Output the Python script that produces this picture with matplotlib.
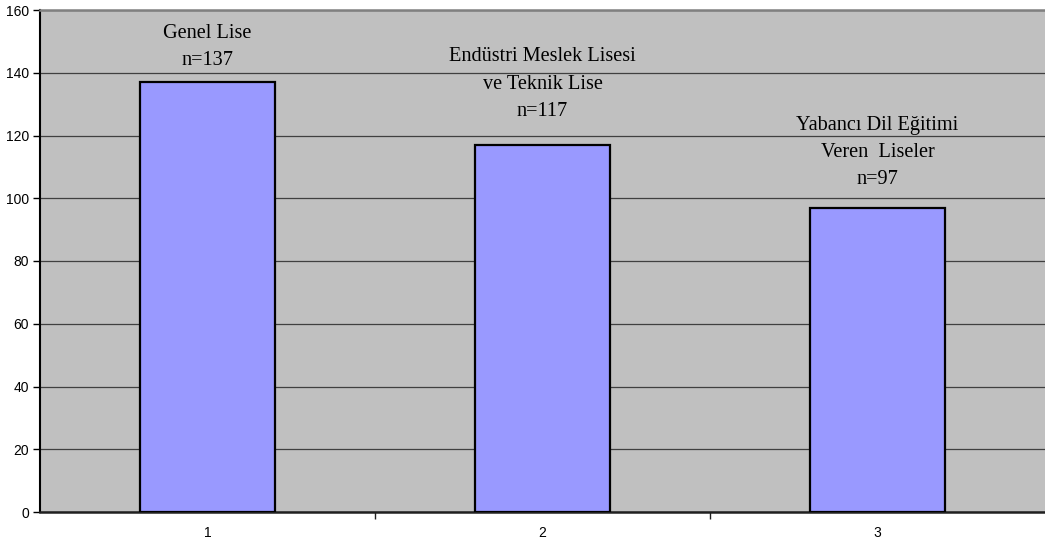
import numpy as np
import matplotlib
matplotlib.use("Agg")
import matplotlib.pyplot as plt

# Okul türlerine göre öğrenci sayıları
categories = ["1", "2", "3"]
counts = [137, 117, 97]
group_names = [
    "Genel Lise",
    "Endüstri Meslek Lisesi\nve Teknik Lise",
    "Yabancı Dil Eğitimi\nVeren  Liseler",
]

# label anchor heights (data units) above each bar
label_y = [140.9, 124.6, 102.8]

BAR_COLOR = "#9999FF"
BG_COLOR = "#C0C0C0"

fig = plt.figure(figsize=(10.45, 5.42), dpi=100)
ax = fig.add_axes([40 / 1045, 30 / 542, 1005 / 1045, 502 / 542])
ax.set_facecolor(BG_COLOR)

x = np.arange(1, len(counts) + 1)
ax.bar(x, counts, width=0.405, color=BAR_COLOR, edgecolor="black",
       linewidth=1.6, zorder=3)

for xi, name, n, ly in zip(x, group_names, counts, label_y):
    ax.text(xi, ly, f"{name}\nn={n}", ha="center", va="bottom",
            multialignment="center", linespacing=1.6,
            fontfamily="Liberation Serif", fontsize=14.6, color="black",
            zorder=4)

ax.set_xlim(0.5, 3.5)
ax.set_ylim(0, 160)
ax.set_yticks(np.arange(0, 161, 20))
ax.yaxis.grid(True, color="#404040", linewidth=0.9, zorder=1)
ax.set_axisbelow(True)

# category labels at centers, tick marks on the boundaries
ax.set_xticks(x)
ax.set_xticklabels(categories)
ax.tick_params(axis="x", which="major", length=0, pad=10)
ax.set_xticks([1.5, 2.5], minor=True)
ax.tick_params(axis="x", which="minor", length=5, width=1, color="#202020",
               direction="out")
ax.tick_params(axis="y", length=5, width=1, direction="out", pad=3)

for lab in ax.get_xticklabels() + ax.get_yticklabels():
    lab.set_fontfamily("Liberation Sans")
    lab.set_fontsize(10)

ax.spines["left"].set_color("black")
ax.spines["left"].set_linewidth(1.5)
ax.spines["bottom"].set_color("#202020")
ax.spines["bottom"].set_linewidth(1.8)
ax.spines["top"].set_color("#808080")
ax.spines["top"].set_linewidth(1.8)
ax.spines["right"].set_visible(False)

fig.savefig("out.png", dpi=100, facecolor="white")
